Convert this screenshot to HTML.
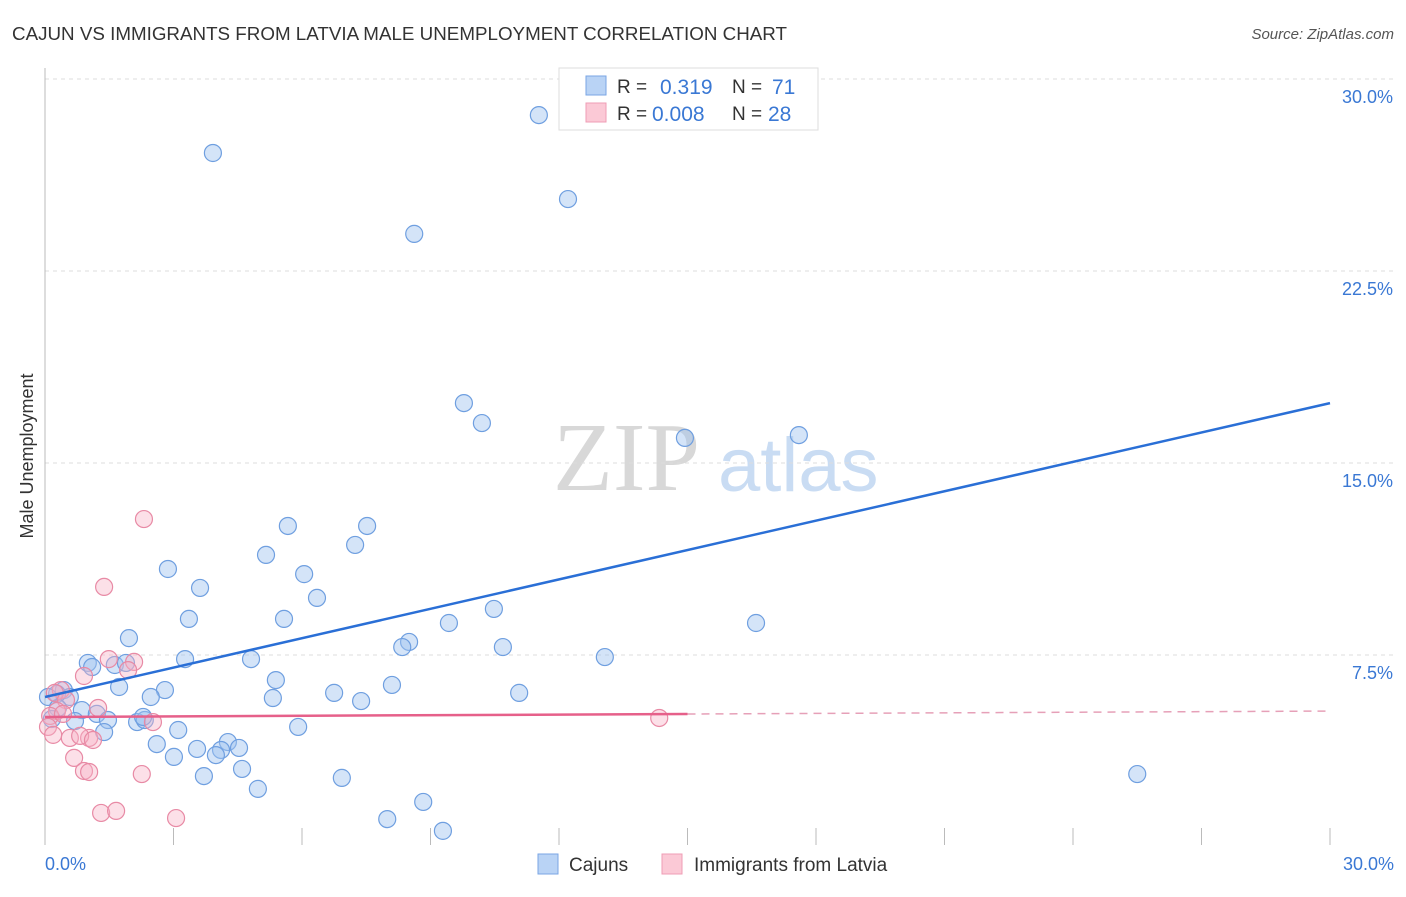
<!DOCTYPE html>
<html><head><meta charset="utf-8"><style>
body{margin:0;background:#fff;font-family:"Liberation Sans",sans-serif}
</style></head><body>
<svg width="1406" height="892" viewBox="0 0 1406 892" xmlns="http://www.w3.org/2000/svg">
<text x="12" y="40" font-size="18" fill="#333" textLength="775" lengthAdjust="spacingAndGlyphs">CAJUN VS IMMIGRANTS FROM LATVIA MALE UNEMPLOYMENT CORRELATION CHART</text>
<text x="1394" y="39" font-size="15" fill="#555" font-style="italic" text-anchor="end">Source: ZipAtlas.com</text>
<text x="553" y="490" font-size="98" fill="#d8d8d8" font-family="Liberation Serif,serif">ZIP</text>
<text x="718" y="491" font-size="76" fill="#c9dcf3">atlas</text>
<g id="grid"></g>
<g id="axes"></g>
<g id="pts"></g>
<g id="lines"></g>
<text transform="translate(33,456) rotate(-90)" font-size="18" fill="#333" text-anchor="middle">Male Unemployment</text>
<text x="45" y="870" font-size="18" fill="#3a78d4">0.0%</text>
<text x="1394" y="870" font-size="18" fill="#3a78d4" text-anchor="end">30.0%</text>
<g>
<rect x="559" y="68" width="259" height="62" fill="#fff" stroke="#ddd"/>
<rect x="586" y="76" width="20" height="19" fill="#b9d3f5" stroke="#7aa6e4"/>
<rect x="586" y="103" width="20" height="19" fill="#fbc9d6" stroke="#ef9db5"/>
<text x="617" y="93" font-size="19" fill="#333">R =</text><text x="660" y="94" font-size="21" fill="#3a78d4">0.319</text>
<text x="732" y="93" font-size="19" fill="#333">N =</text><text x="772" y="94" font-size="21" fill="#3a78d4">71</text>
<text x="617" y="120" font-size="19" fill="#333">R =</text><text x="652" y="121" font-size="21" fill="#3a78d4">0.008</text>
<text x="732" y="120" font-size="19" fill="#333">N =</text><text x="768" y="121" font-size="21" fill="#3a78d4">28</text>
</g>
<g>
<rect x="538" y="854" width="20" height="20" fill="#b9d3f5" stroke="#7aa6e4"/>
<text x="569" y="871" font-size="19" fill="#333">Cajuns</text>
<rect x="662" y="854" width="20" height="20" fill="#fbc9d6" stroke="#ef9db5"/>
<text x="694" y="871" font-size="19" fill="#333">Immigrants from Latvia</text>
</g>
</svg>
<script>
const yTicks=[7.5,15,22.5,30];
const yTickLabels=["7.5%","15.0%","22.5%","30.0%"];
const xTicks=[0,3,6,9,12,15,18,21,24,27,30];
const cajunX=[3.92,11.53,12.21,8.62,9.78,10.20,14.94,17.60,5.67,7.52,5.16,7.24,2.87,6.05,3.62,6.35,3.36,5.58,9.43,10.48,16.60,1.96,8.50,8.34,10.69,13.07,1.00,1.63,1.89,3.27,4.81,1.10,1.73,5.39,8.10,2.80,2.47,6.75,11.07,5.32,7.38,0.44,0.58,0.28,0.07,0.30,0.86,1.21,1.47,0.70,0.16,2.15,2.33,2.29,5.91,3.11,1.38,2.61,4.27,3.55,4.11,4.53,3.99,3.01,4.60,3.71,6.93,25.50,4.97,8.83,7.99,9.29];
const cajunY=[27.11,28.59,25.31,23.95,17.34,16.56,15.98,16.09,12.54,12.54,11.41,11.80,10.86,10.66,10.12,9.73,8.91,8.91,8.75,9.30,8.75,8.16,8.01,7.81,7.81,7.42,7.19,7.11,7.19,7.34,7.34,7.03,6.25,6.52,6.33,6.13,5.86,6.02,6.02,5.82,5.70,6.13,5.86,5.98,5.86,5.43,5.35,5.20,4.96,4.92,5.00,4.88,4.96,5.08,4.69,4.57,4.49,4.02,4.10,3.83,3.79,3.87,3.59,3.52,3.05,2.77,2.70,2.85,2.27,1.76,1.09,0.63];
const latviaX=[2.31,1.38,1.49,2.08,1.94,0.91,0.37,0.23,0.49,0.28,1.24,0.12,0.42,2.52,0.07,0.19,0.58,1.03,0.82,1.12,0.68,0.91,1.03,2.26,1.31,1.66,3.06,14.34];
const latviaY=[12.81,10.16,7.34,7.23,6.91,6.68,6.13,6.02,5.74,5.31,5.43,5.12,5.20,4.88,4.69,4.38,4.26,4.26,4.34,4.18,3.48,2.97,2.93,2.85,1.33,1.41,1.13,5.04];
const cajunTrend=[5.86,17.34];
const latviaTrend=[5.08,5.31];
const latviaSolidEnd=15;
const NS="http://www.w3.org/2000/svg";
const X0=45,X1=1330,YB=847,PXY=25.6;
function sx(v){return X0+(X1-X0)*v/30;}
function sy(v){return YB-v*PXY;}
function mk(tag,attrs,parent){const e=document.createElementNS(NS,tag);for(const k in attrs)e.setAttribute(k,attrs[k]);document.getElementById(parent).appendChild(e);return e;}
yTicks.forEach((t,i)=>{
 const g=mk('line',{x1:X0,x2:1394,y1:sy(t),y2:sy(t),stroke:'#ddd','stroke-dasharray':'4,4'},'grid');
 
 
 const l=mk('text',{x:1393,y:sy(t)+24,'font-size':18,fill:'#3a78d4','text-anchor':'end'},'grid');
 l.textContent=yTickLabels[i];
 
 
});
const ax=mk('line',{x1:X0,x2:X0,y1:68,y2:845,stroke:'#bbb'},'axes');


xTicks.forEach(t=>{
 const k=mk('line',{x1:sx(t),x2:sx(t),y1:828,y2:845,stroke:'#bbb'},'axes');
 
 
});
cajunX.forEach((v,i)=>{
 const c=mk('circle',{cx:sx(v),cy:sy(cajunY[i]),r:8.5,fill:'rgba(160,196,240,0.45)',stroke:'#6f9fe0','stroke-width':1.2},'pts');
 
 
});
latviaX.forEach((v,i)=>{
 const c=mk('circle',{cx:sx(v),cy:sy(latviaY[i]),r:8.5,fill:'rgba(247,178,198,0.4)',stroke:'#e88aa5','stroke-width':1.2},'pts');
 
 
});
const bl=mk('line',{x1:sx(0),y1:sy(cajunTrend[0]),x2:sx(30),y2:sy(cajunTrend[1]),stroke:'#2a6fd6','stroke-width':2.5},'lines');


const lt=v=>latviaTrend[0]+(latviaTrend[1]-latviaTrend[0])*v/30;
const pl=mk('line',{x1:sx(0),y1:sy(lt(0)),x2:sx(latviaSolidEnd),y2:sy(lt(latviaSolidEnd)),stroke:'#e6608a','stroke-width':2.5},'lines');


const pd=mk('line',{x1:sx(latviaSolidEnd),y1:sy(lt(latviaSolidEnd)),x2:sx(30),y2:sy(lt(30)),stroke:'#e6a0b8','stroke-width':1.5,'stroke-dasharray':'8,6'},'lines');


</script>
</body></html>
